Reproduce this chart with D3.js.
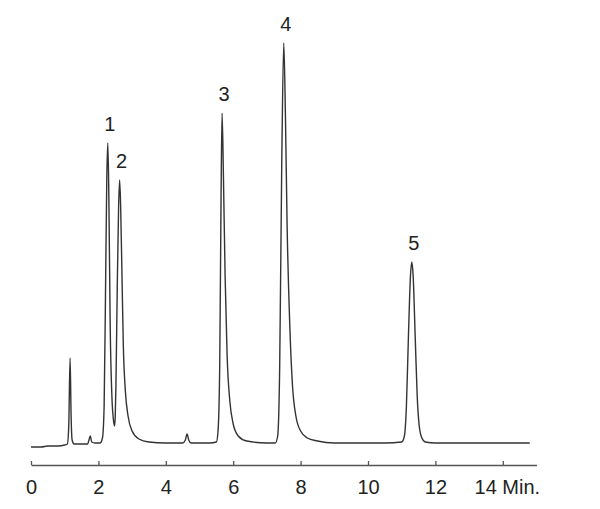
<!DOCTYPE html>
<html>
<head>
<meta charset="utf-8">
<script src="https://cdn.jsdelivr.net/npm/d3@7"></script>
<style>
  html, body { margin: 0; padding: 0; background: #fff; }
  svg { display: block; }
  text { font-family: "Liberation Sans", Arial, sans-serif; }
</style>
</head>
<body>
<svg id="chart" width="600" height="509"></svg>
<script>
// Retention time (min) and detector signal (arbitrary units)
const times = [0, 0.3, 0.5, 0.8, 1.0, 1.08, 1.12, 1.16, 1.19, 1.22, 1.28, 1.5, 1.68, 1.72, 1.76, 1.8, 1.9, 2.05,
  2.12, 2.17, 2.21, 2.25, 2.28, 2.31, 2.35, 2.4, 2.45, 2.48, 2.5,
  2.52, 2.56, 2.6, 2.63, 2.66, 2.7, 2.74, 2.8, 2.88, 3.0, 3.2, 3.5, 4.0, 4.5, 4.58, 4.63, 4.68, 4.75,
  5.3, 5.5, 5.55, 5.6, 5.64, 5.67, 5.71, 5.76, 5.82, 5.9, 6.0, 6.15, 6.4, 7.0,
  7.25, 7.32, 7.38, 7.44, 7.5, 7.55, 7.6, 7.68, 7.76, 7.86, 8.0, 8.2, 8.5, 9.0,
  10.5, 11.0, 11.08, 11.14, 11.2, 11.26, 11.3, 11.34, 11.4, 11.46, 11.52, 11.6, 11.7, 12.0, 14.8];
const signal = [-1, -1, 0, 0, 1, 2, 20, 88, 30, 6, 2, 2, 2, 6, 10, 4, 3, 3,
  8, 40, 150, 270, 303, 250, 120, 50, 25, 20, 30,
  60, 160, 240, 266, 240, 170, 100, 55, 30, 15, 7, 4, 3, 3, 6, 12, 6, 3,
  3, 4, 15, 80, 250, 333, 270, 170, 90, 45, 22, 10, 5, 3,
  3, 10, 80, 280, 403, 330, 220, 120, 60, 30, 15, 8, 5, 3,
  3, 4, 10, 40, 110, 170, 184, 170, 110, 50, 20, 8, 4, 3, 3];

// Numbered peaks
const peakLabels = ["1", "2", "3", "4", "5"];
const peakTimes = [2.28, 2.63, 5.67, 7.5, 11.3];
const peakHeights = [303, 266, 333, 403, 184];

// Axis ticks
const tickValues = [0, 2, 4, 6, 8, 10, 12, 14];
const tickLabels = ["0", "2", "4", "6", "8", "10", "12", "14 Min."];

const svg = d3.select("#chart");
const x = d3.scaleLinear().domain([0, 15]).range([31, 536.5]);
const y = d3.scaleLinear().domain([0, 410]).range([446, 36]);

const pts = times.map((t, i) => [t, signal[i]]);
const line = d3.line().x(d => x(d[0])).y(d => y(d[1])).curve(d3.curveMonotoneX);

svg.append("path")
  .datum(pts)
  .attr("d", line)
  .attr("fill", "none")
  .attr("stroke", "#333")
  .attr("stroke-width", 1.4)
  .attr("stroke-linejoin", "round");

// Peak numbers
svg.selectAll("text.peak")
  .data(peakLabels)
  .join("text")
  .attr("class", "peak")
  .attr("x", (d, i) => x(peakTimes[i]) + 2)
  .attr("y", (d, i) => y(peakHeights[i]) - 12)
  .attr("text-anchor", "middle")
  .attr("font-size", 20)
  .attr("fill", "#222")
  .text(d => d);

// Time axis
const axis = d3.axisBottom(x)
  .tickValues(tickValues)
  .tickFormat((d, i) => tickLabels[i])
  .tickSizeInner(-4)
  .tickSizeOuter(0)
  .tickPadding(15);

const g = svg.append("g").attr("transform", "translate(0,465)").call(axis);
g.select(".domain").attr("stroke", "#555").attr("stroke-width", 1.5);
g.selectAll(".tick line").attr("stroke", "#555").attr("stroke-width", 1.3);
g.selectAll(".tick text")
  .attr("font-size", 20)
  .attr("font-family", "'Liberation Sans', Arial, sans-serif")
  .attr("fill", "#222")
  .attr("dx", (d, i) => i === tickValues.length - 1 ? 4 : 0);
</script>
</body>
</html>
